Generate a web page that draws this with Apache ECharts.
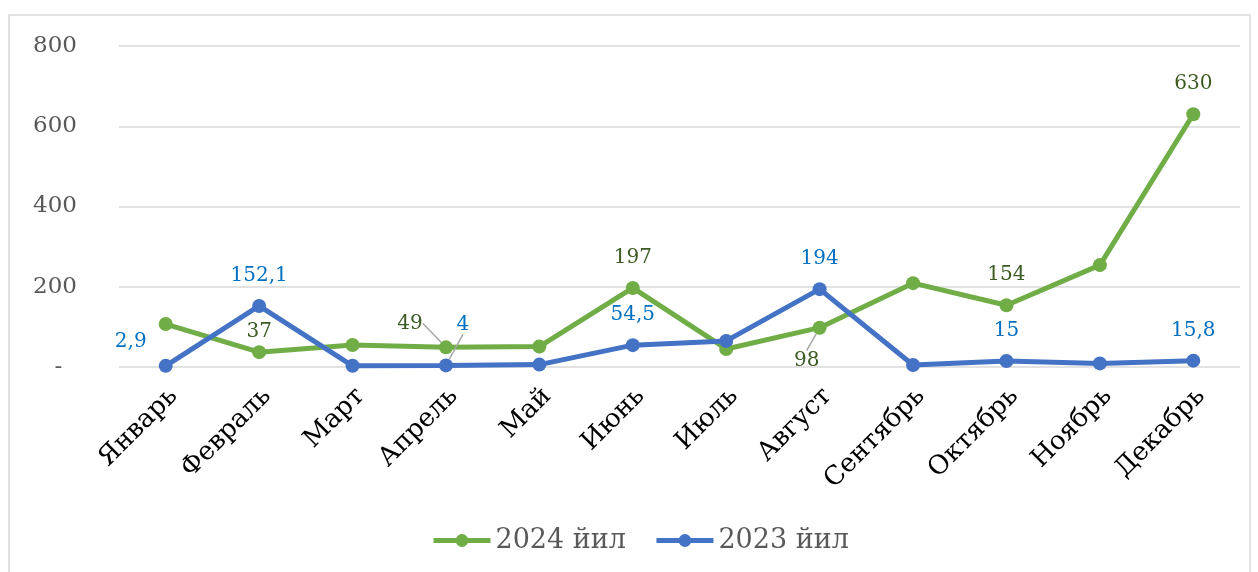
<!DOCTYPE html>
<html>
<head>
    <meta charset="utf-8">
    <title>2024 / 2023</title>
    <script src="https://cdn.jsdelivr.net/npm/echarts@6/dist/echarts.min.js"></script>
    <style>
        html, body {
            margin: 0;
            width: 100%;
            height: 100%;
            background: #fff;
        }

        #main {
            width: 1258px;
            height: 572px;
        }
    </style>
</head>
<body>
<div id="main"></div>
<script type="text/javascript">
    var myChart = echarts.init(document.getElementById('main'));

    const months = ['Январь', 'Февраль', 'Март', 'Апрель', 'Май', 'Июнь', 'Июль', 'Август', 'Сентябрь', 'Октябрь', 'Ноябрь', 'Декабрь']
    const values2024 = [107, 37, 55, 49, 51, 197, 45, 98, 209, 154, 254, 630]
    const values2023 = [2.9, 152.1, 3, 4, 6, 54.5, 65, 194, 5, 15, 9, 15.8]
    // which points carry a value label
    const labeled2024 = [1, 3, 5, 7, 9, 11]
    const labeled2023 = [0, 1, 3, 5, 7, 9, 11]
    const yTicks = [0, 200, 400, 600, 800]

    const green = '#70ad47'
    const blue = '#4472c4'
    const font = '"DejaVu Serif", serif'

    // labels that sit off to the side (dx, dy from the default "top" spot)
    const moved = {
        '0-1': [0, 10, false],
        '0-3': [-36, 6, true],
        '0-7': [-13, 63, true],
        '1-0': [-35, 6, false],
        '1-3': [17, -11, true]
    }

    function fmt(v) {
        return String(v).replace('.', ',');
    }

    function buildData(values, labeled, s, color) {
        return values.map((v, i) => {
            let item = {value: v};
            if (labeled.indexOf(i) >= 0) {
                item.label = {
                    show: true,
                    position: 'top',
                    distance: 13,
                    color: color,
                    fontFamily: font,
                    fontSize: 20,
                    formatter: p => fmt(p.value)
                };
                let m = moved[s + '-' + i];
                if (m && m[2]) {
                    item.labelLine = {
                        show: true,
                        lineStyle: {color: '#a6a6a6', width: 1.5}
                    };
                }
            }
            return item;
        });
    }

    var option = {
        animation: false,
        textStyle: {fontFamily: font},
        graphic: [{
            type: 'rect',
            shape: {x: 9, y: 15, width: 1241, height: 600},
            style: {fill: 'none', stroke: '#d9d9d9', lineWidth: 1.5},
            silent: true
        }],
        grid: {
            left: 119,
            right: 18,
            top: 46,
            bottom: 205
        },
        legend: {
            bottom: 13,
            left: 426,
            itemWidth: 57,
            itemHeight: 16,
            itemGap: 28,
            lineStyle: {width: 5},
            textStyle: {
                color: '#595959',
                fontFamily: font,
                fontSize: 27
            },
            data: ['2024 йил', '2023 йил']
        },
        xAxis: {
            type: 'category',
            data: months,
            boundaryGap: true,
            axisLine: {show: false},
            axisTick: {show: false},
            axisLabel: {
                rotate: 45,
                margin: 33,
                padding: [0, -11, 0, 0],
                color: '#000',
                fontFamily: font,
                fontSize: 26,
                interval: 0
            }
        },
        yAxis: {
            type: 'value',
            min: yTicks[0],
            max: yTicks[yTicks.length - 1],
            interval: 200,
            axisLine: {show: false},
            axisTick: {show: false},
            splitLine: {lineStyle: {color: '#d9d9d9', width: 1.5}},
            axisLabel: {
                margin: 42,
                color: '#595959',
                fontFamily: font,
                fontSize: 23,
                formatter: v => v === 0 ? '-  ' : String(v)
            }
        },
        series: [
            {
                name: '2024 йил',
                type: 'line',
                data: buildData(values2024, labeled2024, 0, '#3b5b22'),
                symbol: 'circle',
                symbolSize: 14,
                lineStyle: {color: green, width: 5},
                itemStyle: {color: green},
                labelLayout: p => {
                    let m = moved['0-' + p.dataIndex];
                    return m ? {dx: m[0], dy: m[1]} : {};
                },
                z: 2
            },
            {
                name: '2023 йил',
                type: 'line',
                data: buildData(values2023, labeled2023, 1, '#0070c0'),
                symbol: 'circle',
                symbolSize: 14,
                lineStyle: {color: blue, width: 5},
                itemStyle: {color: blue},
                labelLayout: p => {
                    let m = moved['1-' + p.dataIndex];
                    return m ? {dx: m[0], dy: m[1]} : {};
                },
                z: 3
            }
        ]
    };

    myChart.setOption(option);
</script>
</body>
</html>
